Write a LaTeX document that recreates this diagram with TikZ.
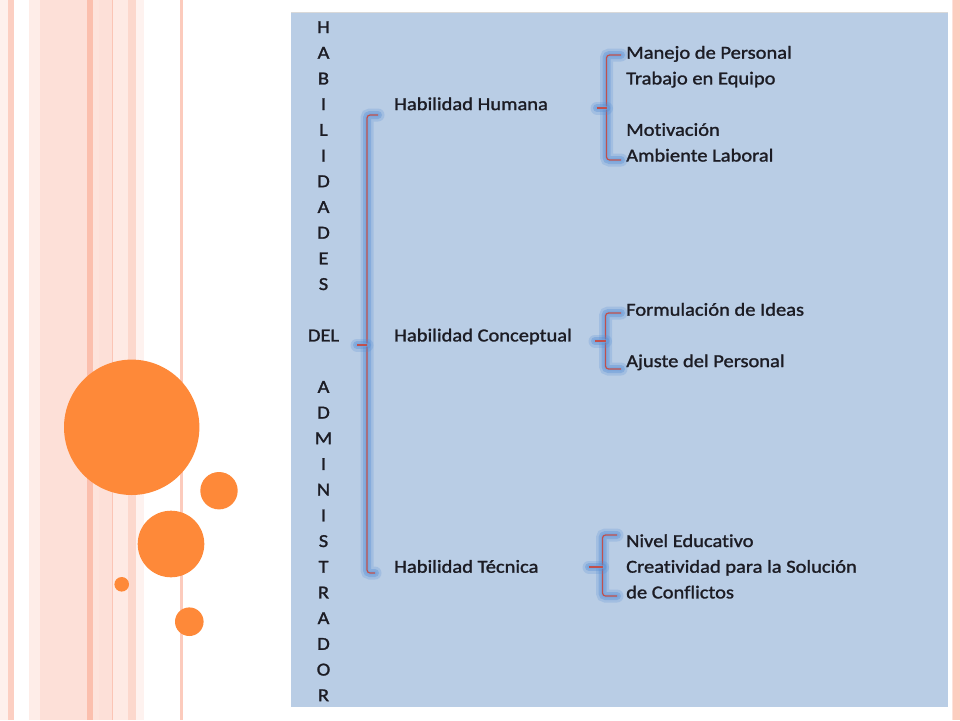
\documentclass[tikz,border=0pt]{standalone}
\usepackage{fontspec}
\setmainfont[FakeStretch=1.12, FakeBold=1.4, Ligatures=NoCommon]{Carlito}
\usepackage{tikz}
\usetikzlibrary{positioning}
\definecolor{panelcolor}{RGB}{185, 205, 229}
\definecolor{bracecolor}{RGB}{192, 80, 77}
\definecolor{glowcolor}{RGB}{84, 141, 212}
\definecolor{circlecolor}{RGB}{254, 137, 57}
\definecolor{stripecolor}{RGB}{251, 191, 173}
\definecolor{textcolor}{RGB}{28, 28, 36}
\tikzstyle{letter} = [inner sep=0, anchor=base, font=\fontsize{18.3}{22}\selectfont, text=textcolor]
\tikzstyle{skill} = [inner sep=0, anchor=base west, font=\fontsize{18.3}{22}\selectfont, text=textcolor]
\tikzstyle{item} = [inner sep=0, anchor=base west, font=\fontsize{18.3}{22}\selectfont, text=textcolor]
\tikzstyle{brace} = [draw=bracecolor, line width=1.2pt, rounded corners=3pt,
  preaction={draw=glowcolor, line width=13pt, opacity=0.22, line cap=round},
  preaction={draw=glowcolor, line width=8pt, opacity=0.35, line cap=round},
  preaction={draw=glowcolor!80, line width=4pt, opacity=0.5, line cap=round}]
\tikzstyle{bubble} = [fill=circlecolor]

\begin{document}
\begin{tikzpicture}[x=1pt, y=-1pt]
\useasboundingbox (0,0) rectangle (960,720);

% Franjas
\fill[stripecolor!23] (0,0) rectangle (8,720);
\fill[stripecolor!75] (8,0) rectangle (14,720);
\fill[stripecolor!28] (29,0) rectangle (40,720);
\fill[stripecolor!48] (40,0) rectangle (87,720);
\fill[stripecolor] (87,0) rectangle (93,720);
\fill[stripecolor!44] (93,0) rectangle (99,720);
\fill[stripecolor!48] (99,0) rectangle (112,720);
\fill[stripecolor!33] (112,0) rectangle (128,720);
\draw[stripecolor!90, line width=0.4pt] (112,0) -- (112,720);
\fill[stripecolor!61] (128,0) rectangle (136,720);
\fill[stripecolor!20] (136,0) rectangle (144,720);
\fill[stripecolor!81] (180,0) rectangle (183,720);
\fill[stripecolor!45] (952,0) rectangle (953,720);
\fill[stripecolor!78] (953,0) rectangle (960,720);

% Circulos
\fill[bubble] (131.7,427.3) circle [radius=67.7pt];
\fill[bubble] (219,490.7) circle [radius=18.7pt];
\fill[bubble] (171,544) circle [radius=33.3pt];
\fill[bubble] (121.7,584.3) circle [radius=7.3pt];
\fill[bubble] (189.3,621.7) circle [radius=14.3pt];

% Panel
\fill[panelcolor] (291,12) rectangle (948,707);
\draw[gray!30] (291,12) -- (948,12);

% Columna izquierda
\node (c1) [letter] at (323.5,33) {H};
\node (c2) [letter] at (323.5,58.7) {A};
\node (c3) [letter] at (323.5,84.4) {B};
\node (c4) [letter] at (323.5,110.1) {I};
\node (c5) [letter] at (323.5,135.8) {L};
\node (c6) [letter] at (323.5,161.5) {I};
\node (c7) [letter] at (323.5,187.2) {D};
\node (c8) [letter] at (323.5,212.9) {A};
\node (c9) [letter] at (323.5,238.6) {D};
\node (c10) [letter] at (323.5,264.3) {E};
\node (c11) [letter] at (323.5,290) {S};
\node (del) [letter] at (323.5,341.4) {DEL};
\node (c12) [letter] at (323.5,392.8) {A};
\node (c13) [letter] at (323.5,418.5) {D};
\node (c14) [letter] at (323.5,444.2) {M};
\node (c15) [letter] at (323.5,469.9) {I};
\node (c16) [letter] at (323.5,495.6) {N};
\node (c17) [letter] at (323.5,521.3) {I};
\node (c18) [letter] at (323.5,547) {S};
\node (c19) [letter] at (323.5,572.7) {T};
\node (c20) [letter] at (323.5,598.4) {R};
\node (c21) [letter] at (323.5,624.1) {A};
\node (c22) [letter] at (323.5,649.8) {D};
\node (c23) [letter] at (323.5,675.5) {O};
\node (c24) [letter] at (323.5,701.2) {R};

% Habilidades
\node (humana) [skill] at (394,110.1) {Habilidad Humana};
\node (conceptual) [skill] at (394,341.4) {Habilidad Conceptual};
\node (tecnica) [skill] at (394,572.7) {Habilidad Técnica};

% Humana
\node (manejo) [item] at (626,58.7) {Manejo de Personal};
\node (trabajo) [item] at (626,84.4) {Trabajo en Equipo};
\node (motivacion) [item] at (626,135.8) {Motivación};
\node (ambiente) [item] at (626,161.5) {Ambiente Laboral};

% Conceptual
\node (ideas) [item] at (626,315.7) {Formulación de Ideas};
\node (ajuste) [item] at (626,367.1) {Ajuste del Personal};

% Tecnica
\node (nivel) [item] at (626,547) {Nivel Educativo};
\node (creatividad) [item] at (626,572.7) {Creatividad para la Solución};
\node (conflictos) [item] at (626,598.4) {de Conflictos};

% Llaves
\coordinate (mainTop) at (378,115);
\coordinate (mainBot) at (375,573);
\coordinate (mainTip) at (357,345);
\draw [brace] (mainTop) -- (367,115) -- (367,573) -- (mainBot);
\draw [brace] (mainTip) -- ++(10,0);

\coordinate (humTop) at (621,55);
\coordinate (humBot) at (621,160);
\coordinate (humTip) at (597,108);
\draw [brace] (humTop) -- (606.5,55) -- (606.5,160) -- (humBot);
\draw [brace] (humTip) -- ++(9.5,0);

\coordinate (conTop) at (621,313);
\coordinate (conBot) at (621,369);
\coordinate (conTip) at (595,341);
\draw [brace] (conTop) -- (605.5,313) -- (605.5,369) -- (conBot);
\draw [brace] (conTip) -- ++(10.5,0);

\coordinate (tecTop) at (617,535);
\coordinate (tecBot) at (617,596);
\coordinate (tecTip) at (589,567);
\draw [brace] (tecTop) -- (602.5,535) -- (602.5,596) -- (tecBot);
\draw [brace] (tecTip) -- ++(13.5,0);

\end{tikzpicture}
\end{document}
